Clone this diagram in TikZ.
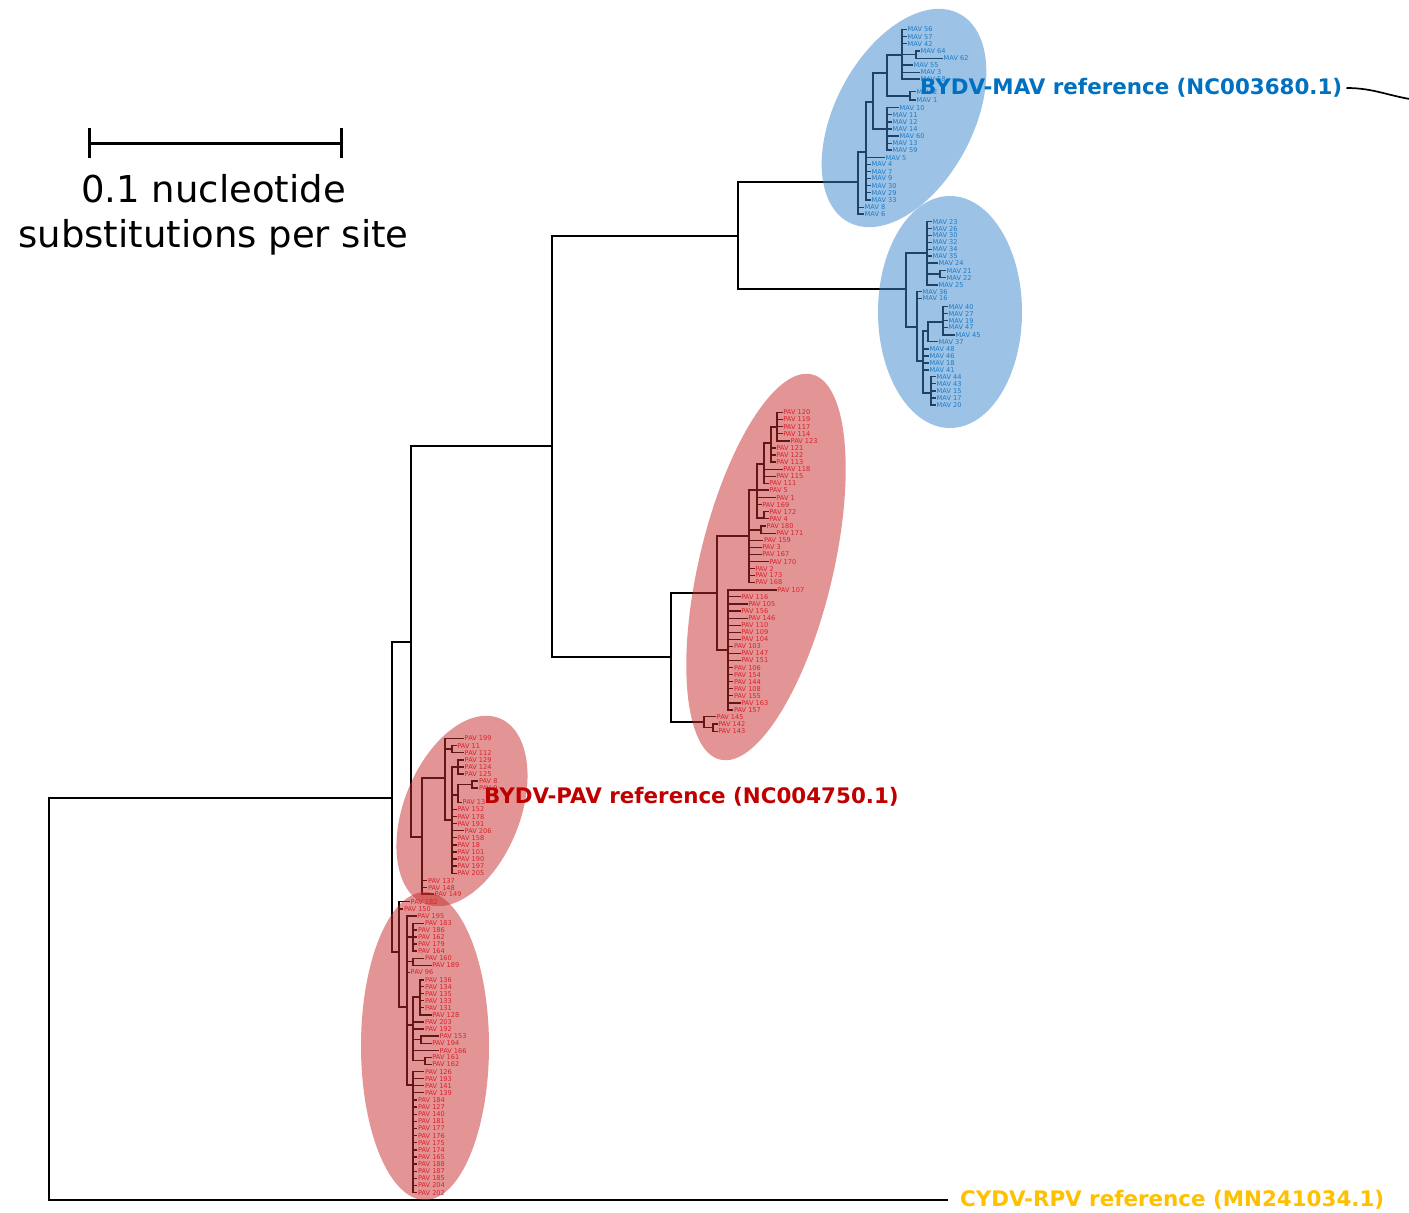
\documentclass[tikz,border=0pt]{standalone}
\usepackage{fontspec}
\setmainfont{DejaVu Sans}
\usetikzlibrary{calc}

\definecolor{mavtxt}{RGB}{0,112,192}
\definecolor{pavtxt}{RGB}{235,20,40}
\definecolor{mavrefc}{RGB}{0,112,192}
\definecolor{pavrefc}{RGB}{192,0,0}
\definecolor{rpvrefc}{RGB}{255,192,0}
\definecolor{mavzone}{RGB}{59,135,205}
\definecolor{pavzone}{RGB}{201,45,45}

% leaves hanging from one parent: name/x/y/label
\newcommand\leafset[3]{%
  \foreach \nm/\lx/\ly/\tx in {#3}{%
    \node[#2] (\nm) at (\lx,\ly) {\tx};
    \draw[br] (#1) |- (\nm.west);
  }}

\tikzset{
  br/.style={line width=1.25pt},
  leafbase/.style={anchor=west, inner xsep=0.5pt, inner ysep=0pt,
    font=\fontsize{6.6}{6.6}\selectfont},
  mavleaf/.style={leafbase, text=mavtxt},
  pavleaf/.style={leafbase, text=pavtxt},
  reflbl/.style={anchor=west, inner xsep=4pt, inner ysep=0pt,
    font=\fontsize{21.4}{21.4}\selectfont\bfseries},
  zonemav/.style={fill=mavzone, fill opacity=0.5},
  zonepav/.style={fill=pavzone, fill opacity=0.5},
  scalebar/.style={line width=3pt},
  scalelbl/.style={inner sep=0pt, font=\fontsize{37}{37}\selectfont},
}

\begin{document}
\begin{tikzpicture}[x=1pt,y=-1pt]
\fill[white] (0,0) rectangle (1409,1213);
\useasboundingbox (0,0) rectangle (1409,1213);

% ---------- backbone ----------
\coordinate (root) at (49,999);
\coordinate (a) at (392,798);
\coordinate (b) at (411,642);
\coordinate (c) at (552,446);
\coordinate (f) at (738,236);
\coordinate (g) at (671,657);
\coordinate (d) at (399,952);
\coordinate (e) at (422,837);
\node[reflbl, inner xsep=12pt, text=rpvrefc] (cydv) at (948,1200) {CYDV-RPV reference (MN241034.1)};

% ---------- MAV clade, upper group ----------
\coordinate (m0) at (858,182);
\coordinate (m1) at (866,152);
\coordinate (m2) at (873,102);
\coordinate (m3) at (887,73);
\coordinate (m4) at (887,129);
\coordinate (m5) at (902,55);
\coordinate (m6) at (910,96);
\coordinate (m7) at (916,54.5);

% ---------- MAV clade, lower group ----------
\coordinate (n0) at (906,289);
\coordinate (n1) at (927,253);
\coordinate (n2) at (940,274);
\coordinate (n3) at (917,327);
\coordinate (n4) at (923,361);
\coordinate (n5) at (928,331);
\coordinate (n6) at (943,322);
\coordinate (n7) at (931,393);

% ---------- PAV clade, right group ----------
\coordinate (h) at (717,593);
\coordinate (i) at (749,536);
\coordinate (i1) at (757,490);
\coordinate (i2) at (761,530);
\coordinate (i3) at (764,464);
\coordinate (i4) at (764,518);
\coordinate (i5) at (771,443);
\coordinate (i6) at (777,427);
\coordinate (j) at (728,650);
\coordinate (k) at (704,722);
\coordinate (k2) at (713,727.5);

% ---------- PAV clade, middle group ----------
\coordinate (e1) at (445,778);
\coordinate (e2) at (452,749);
\coordinate (e3) at (452,820);
\coordinate (e4) at (458,767);
\coordinate (e5) at (458,795);
\coordinate (e6) at (472,784.5);

% ---------- PAV clade, lower group ----------
\coordinate (d1) at (407,1007);
\coordinate (d2) at (413,1085);
\coordinate (d3) at (413,937);
\coordinate (d4) at (413,961.7);
\coordinate (d5) at (413,1025);
\coordinate (d6) at (420,997);
\coordinate (d7) at (421,1039.7);
\coordinate (d8) at (425,1060.8);

% internal branches
\foreach \p/\q in {root/a, a/b, a/d, b/c, b/e, c/f, c/g,
  f/m0, m0/m1, m1/m2, m2/m3, m2/m4, m3/m5, m3/m6, m5/m7,
  f/n0, n0/n1, n0/n3, n1/n2, n3/n4, n4/n5, n5/n6, n4/n7,
  g/h, g/k, h/i, h/j, i/i1, i/i2, i1/i3, i1/i4, i3/i5, i5/i6, k/k2,
  e/e1, e1/e2, e1/e3, e3/e4, e3/e5, e5/e6,
  d/d1, d1/d2, d1/d3, d1/d4, d1/d5, d5/d6, d5/d7, d5/d8}
  \draw[br] (\p) |- (\q);
\draw[br] (root) |- (cydv.west);

% ---------- MAV leaves ----------
\leafset{m5}{mavleaf}{ma56/907/29.3/MAV 56, ma57/907/36.7/MAV 57, ma42/907/43.7/MAV 42,
  ma55/913/65/MAV 55, ma3/920/72.3/MAV 3, ma58/920/79/MAV 58}
\leafset{m7}{mavleaf}{ma64/920/51/MAV 64, ma62/943/58.3/MAV 62}
\leafset{m6}{mavleaf}{ma2/916/91.7/MAV 2, ma1/916/100/MAV 1}
\leafset{m4}{mavleaf}{ma10/899/107.7/MAV 10, ma11/892/114.7/MAV 11, ma12/892/122/MAV 12,
  ma14/892/129/MAV 14, ma60/899/136/MAV 60, ma13/892/143.3/MAV 13, ma59/892/150/MAV 59}
\leafset{m1}{mavleaf}{ma5/885/157.7/MAV 5, ma4/871/164.3/MAV 4, ma7/871/171.7/MAV 7,
  ma9/871/178.3/MAV 9, ma30/871/185.7/MAV 30, ma29/871/192.7/MAV 29, ma33/871/200/MAV 33}
\leafset{m0}{mavleaf}{ma8/864/207.3/MAV 8, ma6/864/214/MAV 6}

\leafset{n1}{mavleaf}{mb23/932/221.7/MAV 23, mb26/932/228.7/MAV 26, mb30/932/235.3/MAV 30,
  mb32/932/242.3/MAV 32, mb34/932/249.3/MAV 34, mb35/932/256/MAV 35,
  mb24/938/263/MAV 24, mb25/938/285/MAV 25}
\leafset{n2}{mavleaf}{mb21/946/270.7/MAV 21, mb22/946/277.7/MAV 22}
\leafset{n3}{mavleaf}{mb36/922/291.7/MAV 36, mb16/922/298.3/MAV 16}
\leafset{n6}{mavleaf}{mb40/948/306.7/MAV 40, mb27/948/313.7/MAV 27, mb19/948/320.7/MAV 19,
  mb47/948/327.3/MAV 47, mb45/955/335/MAV 45}
\leafset{n5}{mavleaf}{mb37/938/341.7/MAV 37}
\leafset{n4}{mavleaf}{mb48/929/349/MAV 48, mb46/929/356/MAV 46, mb18/929/363/MAV 18,
  mb41/929/370/MAV 41}
\leafset{n7}{mavleaf}{mb44/936/376.7/MAV 44, mb43/936/383.7/MAV 43, mb15/936/391/MAV 15,
  mb17/936/398/MAV 17, mb20/936/405/MAV 20}

% ---------- PAV leaves, right group ----------
\leafset{i6}{pavleaf}{pb120/782.7/412.3/PAV 120, pb119/782.7/419.3/PAV 119,
  pb117/782.7/426.7/PAV 117, pb114/782.7/433.7/PAV 114, pb123/790/441/PAV 123}
\leafset{i5}{pavleaf}{pb121/775.7/448/PAV 121, pb122/775.7/455/PAV 122, pb113/775.7/462/PAV 113}
\leafset{i3}{pavleaf}{pb118/782.7/469.3/PAV 118, pb115/775.7/476.3/PAV 115, pb111/768.7/483.3/PAV 111}
\leafset{i1}{pavleaf}{pb5/768.7/490/PAV 5, pb1/775.7/497.7/PAV 1, pb169/761.7/504.7/PAV 169}
\leafset{i4}{pavleaf}{pb172/768.7/511.7/PAV 172, pb4/768.7/518.7/PAV 4}
\leafset{i2}{pavleaf}{pb180/766/526/PAV 180, pb171/775.7/533.3/PAV 171}
\leafset{i}{pavleaf}{pb159/763.3/540.3/PAV 159, pb3/761.7/547.3/PAV 3, pb167/761.7/554.3/PAV 167,
  pb170/768.7/561.7/PAV 170, pb2/754.7/568.7/PAV 2, pb173/754.7/575.3/PAV 173,
  pb168/754.7/582.3/PAV 168}
\leafset{j}{pavleaf}{pb107/776.7/590/PAV 107, pb116/740.7/596.7/PAV 116, pb105/747.7/604/PAV 105,
  pb156/740.7/611/PAV 156, pb146/747.7/618.3/PAV 146, pb110/740.7/625.3/PAV 110,
  pb109/740.7/632.3/PAV 109, pb104/740.7/639.3/PAV 104, pb103/733.3/646.3/PAV 103,
  pb147/740.7/653.3/PAV 147, pb151/740.7/660.3/PAV 151, pb106/733.3/667.7/PAV 106,
  pb154/733.3/674.7/PAV 154, pb144/733.3/681.7/PAV 144, pb108/733.3/688.7/PAV 108,
  pb155/733.3/695.7/PAV 155, pb163/740.7/703/PAV 163, pb157/733.3/710/PAV 157}
\leafset{k}{pavleaf}{pb145/716/716.7/PAV 145}
\leafset{k2}{pavleaf}{pb142/717.7/724/PAV 142, pb143/717.7/731.3/PAV 143}

% ---------- PAV leaves, middle group ----------
\leafset{e1}{pavleaf}{ps199/464/738.3/PAV 199}
\leafset{e2}{pavleaf}{ps11/456.7/745.7/PAV 11, ps112/464/752.7/PAV 112}
\leafset{e4}{pavleaf}{ps129/464/760/PAV 129, ps124/464/767/PAV 124, ps125/464/774/PAV 125}
\leafset{e6}{pavleaf}{ps8/478.3/781/PAV 8, ps9/478.3/788/PAV 9}
\leafset{e5}{pavleaf}{ps13/462/802.3/PAV 13}
\leafset{e3}{pavleaf}{ps152/456.7/809.3/PAV 152, ps178/456.7/816.7/PAV 178,
  ps191/456.7/823.7/PAV 191, ps206/464/830.7/PAV 206, ps158/456.7/837.7/PAV 158,
  ps18/456.7/845/PAV 18, ps101/456.7/852/PAV 101, ps190/456.7/859/PAV 190,
  ps197/456.7/866/PAV 197, ps205/456.7/873.3/PAV 205}
\leafset{e}{pavleaf}{ps137/427.3/880.7/PAV 137, ps148/427.3/887.7/PAV 148, ps149/434/894/PAV 149}

% ---------- PAV leaves, lower group ----------
\leafset{d}{pavleaf}{pd182/410/901.7/PAV 182, pd150/403.3/909/PAV 150}
\leafset{d1}{pavleaf}{pd195/416.7/916/PAV 195, pd96/410/972.3/PAV 96}
\leafset{d3}{pavleaf}{pd183/424.3/923.3/PAV 183, pd186/417.3/930/PAV 186, pd162/417.3/937/PAV 162,
  pd179/417.3/944/PAV 179, pd164/417.3/951/PAV 164}
\leafset{d4}{pavleaf}{pd160/424.3/958.3/PAV 160, pd189/431.7/965.3/PAV 189}
\leafset{d6}{pavleaf}{pd136/424.3/980/PAV 136, pd134/424.3/986.7/PAV 134, pd135/424.3/993.7/PAV 135,
  pd133/424.3/1000.7/PAV 133, pd131/424.3/1007.7/PAV 131, pd128/431.7/1015/PAV 128}
\leafset{d5}{pavleaf}{pd203/424.3/1022/PAV 203, pd192/424.3/1029/PAV 192, pd166/439/1050.7/PAV 166}
\leafset{d7}{pavleaf}{pd153/439/1036/PAV 153, pd194/431.7/1043.3/PAV 194}
\leafset{d8}{pavleaf}{pd161/431.7/1057.3/PAV 161, pd162b/431.7/1064.3/PAV 162}
\leafset{d2}{pavleaf}{pd126/424.3/1071.7/PAV 126, pd193/424.3/1078.7/PAV 193,
  pd141/424.3/1085.7/PAV 141, pd139/424.3/1092.7/PAV 139, pd184/417.3/1100/PAV 184,
  pd127/417.3/1107.1/PAV 127, pd140/417.3/1114.3/PAV 140, pd181/417.3/1121.4/PAV 181,
  pd177/417.3/1128.5/PAV 177, pd176/417.3/1135.6/PAV 176, pd175/417.3/1142.8/PAV 175,
  pd174/417.3/1149.9/PAV 174, pd165/417.3/1157/PAV 165, pd188/417.3/1164.1/PAV 188,
  pd187/417.3/1171.3/PAV 187, pd185/417.3/1178.4/PAV 185, pd204/417.3/1185.5/PAV 204,
  pd202/417.3/1192.7/PAV 202}

% ---------- translucent clade highlights ----------
\fill[zonemav] (904,118) ellipse [x radius=118pt, y radius=69pt, rotate=62];
\fill[zonemav] (950,312) ellipse [x radius=72pt, y radius=116pt];
\fill[zonepav] (766,567) ellipse [x radius=198pt, y radius=67pt, rotate=76.6];
\fill[zonepav] (462,811) ellipse [x radius=100pt, y radius=58pt, rotate=68];
\fill[zonepav] (425,1046) ellipse [x radius=64pt, y radius=154pt];

% ---------- reference sequences ----------
\node[reflbl, text=mavrefc] (mavref) at (916,88) {BYDV-MAV reference (NC003680.1)};
\node[reflbl, text=pavrefc] (pavref) at (480,797) {BYDV-PAV reference (NC004750.1)};
\coordinate (mavtail) at (1416,100);
\draw[line width=1.7pt] (mavref.east) to[out=0, in=172] (mavtail);

% ---------- scale bar ----------
\coordinate (sbl) at (89,143);
\coordinate (sbr) at (341,143);
\draw[scalebar] (sbl) -- (sbr);
\draw[scalebar] ($(sbl)+(0,-15)$) -- ($(sbl)+(0,15)$);
\draw[scalebar] ($(sbr)+(0,-15)$) -- ($(sbr)+(0,15)$);
\node[scalelbl, anchor=base] (sbtop) at (213.5,202) {0.1 nucleotide};
\node[scalelbl, anchor=base] (sbbot) at (213.5,247) {substitutions per site};
\end{tikzpicture}
\end{document}
